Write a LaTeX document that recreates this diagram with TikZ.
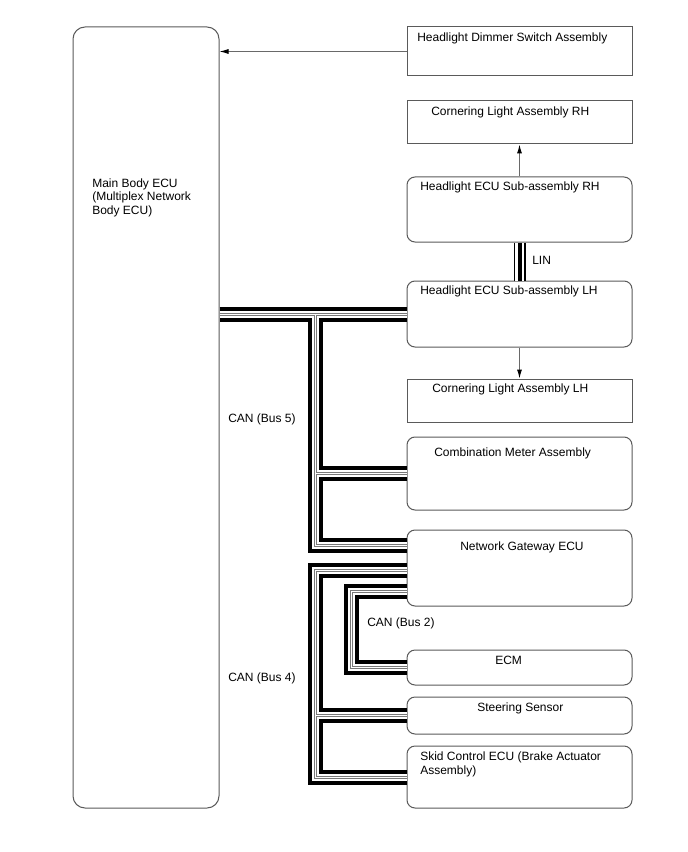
\documentclass[tikz,border=0pt]{standalone}
\usepackage{fontspec}
\setmainfont{Liberation Sans}
\usetikzlibrary{arrows.meta,fit}
\definecolor{boxc}{RGB}{90,90,90}
\definecolor{linec}{RGB}{105,105,105}
\definecolor{busgray}{RGB}{120,120,120}
\begin{document}
\begin{tikzpicture}[x=0.75pt,y=-0.75pt,
  box/.style={draw=boxc, line width=0.75pt, inner sep=0pt},
  rbox/.style={box, rounded corners=6pt},
  txt/.style={anchor=base west, inner sep=0pt, font=\fontsize{9pt}{10.1pt}\selectfont},
  arr/.style={draw=linec, line width=0.75pt, -{Latex[length=6.75pt,width=3.75pt,black]}},
  busA/.style={line width=11.25pt, black, line join=miter},
  busB/.style={line width=5.25pt, white, line join=miter},
  busC/.style={line width=2.25pt, busgray, line join=miter},
  busD/.style={line width=0.75pt, white, line join=miter},
  linA/.style={line width=9pt, black},
  linB/.style={line width=7.05pt, white},
  linC/.style={line width=3pt, black}]
\fill[white] (0,0) rectangle (688,852);
\useasboundingbox (0,0) rectangle (688,852);

% boxes
\node[box, rounded corners=9pt, fit={(73,27) (219,808)}] (ecu) {};
\node[box, fit={(407,27) (632,76)}] (dim) {};
\node[box, fit={(407,101) (632,144)}] (crh) {};
\node[rbox, fit={(407,177) (632,242)}] (hrh) {};
\node[rbox, fit={(407,281) (632,347)}] (hlh) {};
\node[box, fit={(407,379) (632,422)}] (clh) {};
\node[rbox, fit={(407,437) (632,510)}] (cm) {};
\node[rbox, fit={(407,530) (632,606)}] (ng) {};
\node[rbox, fit={(407,650) (632,685)}] (ecm) {};
\node[rbox, fit={(407,697) (632,734)}] (st) {};
\node[rbox, fit={(407,746) (632,808)}] (sk) {};

% junction / bend coordinates
\coordinate (j5a) at (315,314);
\coordinate (j5b) at (315,473.5);
\coordinate (j5c) at (315,545.5);
\coordinate (ng5) at (ng.west |- 0,545.5);
\coordinate (ng4) at (ng.west |- 0,570);
\coordinate (j4a) at (315,570);
\coordinate (j4b) at (315,715.5);
\coordinate (j4c) at (315,777);
\coordinate (ng2) at (ng.west |- 0,591.5);
\coordinate (j2a) at (351.5,591.5);
\coordinate (j2b) at (351.5,667.5);

\newcommand\buspaths{%
  (ecu.east |- hlh.west) -- (hlh.west)
  (j5a) -- (j5c) -- (ng5)
  (j5b) -- (cm.west)
  (ng4) -- (j4a) -- (j4c) -- (sk.west)
  (j4b) -- (st.west)
  (ng2) -- (j2a) -- (j2b) -- (ecm.west)}
\draw[busA] \buspaths;
\draw[busB] \buspaths;
\draw[busC] \buspaths;
\draw[busD] \buspaths;

% LIN
\draw[linA] (hrh.south) -- (hlh.north);
\draw[linB] (hrh.south) -- (hlh.north);
\draw[linC] (hrh.south) -- (hlh.north);

% arrows
\draw[arr] (dim.west) -- (ecu.east |- dim.west);
\draw[arr] (hrh.north) -- (crh.south);
\draw[arr] (hlh.south) -- (clh.north);

% texts
\node[txt] (tecu1) at (92,187.5) {Main Body ECU};
\node[txt] (tecu2) at (92,201) {(Multiplex Network};
\node[txt] (tecu3) at (92,214.5) {Body ECU)};
\node[txt] (tdim) at (417,42) {Headlight Dimmer Switch Assembly};
\node[txt] (tcrh) at (431,115.5) {Cornering Light Assembly RH};
\node[txt] (thrh) at (420,190.5) {Headlight ECU Sub-assembly RH};
\node[txt] (tlin) at (532,264.5) {LIN};
\node[txt] (thlh) at (420,294.5) {Headlight ECU Sub-assembly LH};
\node[txt] (tclh) at (432,392.5) {Cornering Light Assembly LH};
\node[txt] (tcm) at (434,456.5) {Combination Meter Assembly};
\node[txt] (tng) at (460,550.5) {Network Gateway ECU};
\node[txt] (tb2) at (367,626.5) {CAN (Bus 2)};
\node[txt] (tecm) at (495,664.5) {ECM};
\node[txt] (tst) at (477,711.5) {Steering Sensor};
\node[txt] (tsk1) at (420,760.5) {Skid Control ECU (Brake Actuator};
\node[txt] (tsk2) at (420,774.5) {Assembly)};
\node[txt] (tb5) at (228,422.5) {CAN (Bus 5)};
\node[txt] (tb4) at (228,681.5) {CAN (Bus 4)};
\end{tikzpicture}
\end{document}
